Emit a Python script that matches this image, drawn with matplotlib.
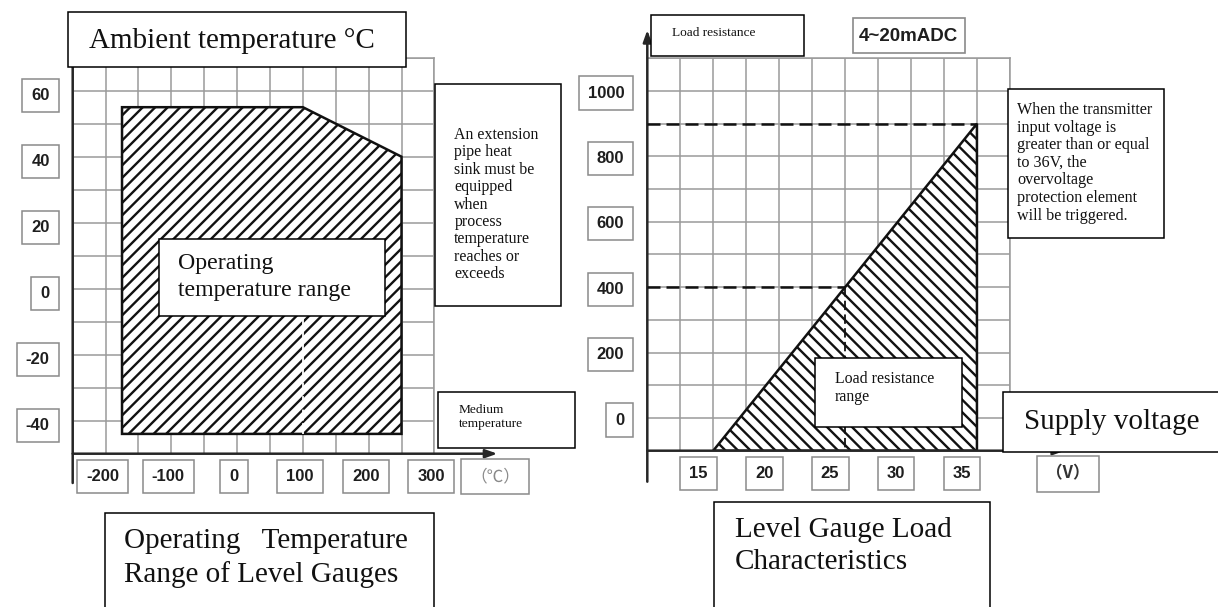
import matplotlib
matplotlib.use("Agg")
import matplotlib.pyplot as plt
from matplotlib.patches import Rectangle, Polygon
from matplotlib import font_manager
import numpy as np

# Canvas is 1218 x 607 px; at 75 dpi the double-stroke hatch has a line
# pitch of 12.5 px.  PT converts "100 dpi points" to this dpi.
W, H, DPI = 1218, 607, 75
PT = 100 / DPI

# ---- Operating temperature envelope: medium (process) vs ambient, in °C
medium_temp = [-175, -175, 100, 250, 250]
ambient_temp = [-44, 55, 55, 40, -44]
heat_sink_temp = 100          # above this an extension pipe heat sink is needed
heat_sink_ambient = [-44, 0]
temp_x_ticks = [-200, -100, 0, 100, 200, 300]
temp_y_ticks = [-40, -20, 0, 20, 40, 60]

# ---- Load characteristic: supply voltage (V) vs load resistance (Ω)
supply_v = [15, 35, 35]
load_ohm = [-100, 900, -100]
ref_v, ref_ohm = 25, 400      # 24 V class operating point
max_v, max_ohm = 35, 900      # upper limit before overvoltage protection
volt_ticks = [15, 20, 25, 30, 35]
ohm_ticks = [0, 200, 400, 600, 800, 1000]

plt.rcParams["hatch.linewidth"] = 1.7 * PT
plt.rcParams["hatch.color"] = "#111111"

fig = plt.figure(figsize=((W + 0.01) / DPI, (H + 0.01) / DPI), dpi=DPI, facecolor="white")

SERIF = "Liberation Serif"
SANS = "Liberation Sans"
try:
    font_manager.findfont(font_manager.FontProperties(family="Liberation Sans Narrow", weight="bold"),
                          fallback_to_default=False)
    BADGE_FONT, BADGE_SIZE = "Liberation Sans Narrow", 16
except ValueError:
    BADGE_FONT, BADGE_SIZE = SANS, 13.5


def axes_at(x0, y0, x1, y1):
    return fig.add_axes([x0 / W, 1 - y1 / H, (x1 - x0) / W, (y1 - y0) / H])


GRID_C = "#9a9a9a"
AXIS_C = "#262626"


def style_grid(ax, xs, ys):
    ax.set_xticks(xs)
    ax.set_yticks(ys)
    ax.grid(True, color=GRID_C, lw=1.1 * PT)
    ax.set_axisbelow(True)
    ax.tick_params(length=0, labelbottom=False, labelleft=False)
    for side in ("top", "right"):
        ax.spines[side].set_color(GRID_C)
        ax.spines[side].set_linewidth(1.1 * PT)
    for side in ("left", "bottom"):
        ax.spines[side].set_visible(False)


def axis_arrows(ax, x_tip, y_tip, y_tail):
    arrow = dict(arrowstyle="-|>,head_length=0.7,head_width=0.25", lw=1.8 * PT,
                 color=AXIS_C, shrinkA=0, shrinkB=0, mutation_scale=10 * PT)
    ax.annotate("", xy=(0, y_tip), xytext=(0, y_tail), xycoords="axes fraction",
                arrowprops=arrow, annotation_clip=False)
    ax.annotate("", xy=(x_tip, 0), xytext=(0, 0), xycoords="axes fraction",
                arrowprops=arrow, annotation_clip=False)


TICK_BOX = dict(boxstyle="square,pad=0.55", fc="white", ec="#8a8a8a", lw=1.1 * PT)


def tick_box(ax, text, xy, coords, dx, dy, ha, color="#1e1e1e", family=SANS, weight="bold"):
    ax.annotate(text, xy=xy, xycoords=coords, xytext=(dx, dy), textcoords="offset pixels",
                ha=ha, va="center", fontsize=12 * PT, fontweight=weight, family=family,
                color=color, bbox=TICK_BOX, annotation_clip=False, zorder=6)


# ---------------- left: operating temperature range ----------------
ax1 = axes_at(72.7, 57.7, 434.4, 453.7)
ax1.set_xlim(-250, 300)
ax1.set_ylim(-50, 70)
style_grid(ax1, np.arange(-250, 301, 50), np.arange(-50, 71, 10))

ax1.add_patch(Polygon(np.column_stack([medium_temp, ambient_temp]), closed=True,
                      fc="white", ec="#111111", lw=1.8 * PT, hatch="//", zorder=3))
ax1.plot([heat_sink_temp, heat_sink_temp], heat_sink_ambient, color="white",
         lw=1.3 * PT, dashes=(6, 1.5), zorder=4)
axis_arrows(ax1, 1.174, 1.075, -0.074)

for v in temp_y_ticks:
    tick_box(ax1, str(v), (0, v), ax1.get_yaxis_transform(), -23, -5, "right")
for v in temp_x_ticks:
    tick_box(ax1, str(v), (v, 0), ax1.get_xaxis_transform(), -3, -23, "center")
tick_box(ax1, "（℃）", (1.168, 0), "axes fraction", 0, -23, "center",
         color="#8a8a8a", family=["Noto Sans CJK SC", "DejaVu Sans"], weight="normal")

# ---------------- right: load characteristic ----------------
ax2 = axes_at(647.3, 58.3, 1009.9, 450.7)
ax2.set_xlim(10, 37.5)
ax2.set_ylim(-100, 1100)
style_grid(ax2, np.arange(10, 37.6, 2.5), np.arange(-100, 1101, 100))

ax2.add_patch(Polygon(np.column_stack([supply_v, load_ohm]), closed=True,
                      fc="white", ec="#111111", lw=1.8 * PT, hatch="\\\\", zorder=3))
v_origin, r_floor = ax2.get_xlim()[0], ax2.get_ylim()[0]
dash = dict(color="#111111", lw=1.8 * PT, dashes=(5.2, 2.4), zorder=4)
ax2.plot([v_origin, max_v], [max_ohm, max_ohm], **dash)
ax2.plot([v_origin, ref_v], [ref_ohm, ref_ohm], **dash)
ax2.plot([ref_v, ref_v], [ref_ohm, r_floor], **dict(dash, lw=1.3 * PT))
axis_arrows(ax2, 1.152, 1.072, -0.079)

for v in ohm_ticks:
    tick_box(ax2, str(v), (0, v), ax2.get_yaxis_transform(), -23, -2, "right")
for v in volt_ticks:
    tick_box(ax2, str(v), (v, 0), ax2.get_xaxis_transform(), -15, -23, "center")
tick_box(ax2, "（V）", (1.160, 0), "axes fraction", 0, -23, "center",
         color="#333333", family=["Noto Sans CJK SC", "DejaVu Sans"], weight="bold")


# ---------------- framed captions ----------------
def frame(x0, y0, x1, y1, ec="black", lw=1.1):
    fig.patches.append(Rectangle((x0 / W, 1 - y1 / H), (x1 - x0) / W, (y1 - y0) / H,
                                 transform=fig.transFigure, fc="white", ec=ec, lw=lw * PT,
                                 zorder=5, clip_on=False))


def caption(x, y_first, lines, size, line_px=0):
    for i, line in enumerate(lines):
        fig.text(x / W, 1 - (y_first + i * line_px) / H, line, fontsize=size * PT,
                 family=SERIF, ha="left", va="center", color="#111111", zorder=6)


frame(68.1, 11.7, 405.7, 67.3)
caption(88.8, 41.0, ["Ambient temperature °C"], 21)

frame(435.1, 84, 560.7, 306)
caption(454.3, 135, ["An extension", "pipe heat", "sink must be", "equipped", "when",
                     "process", "temperature", "reaches or", "exceeds"], 11.4, 17.4)

frame(158.8, 238.7, 384.6, 316)
caption(178, 263.3, ["Operating", "temperature range"], 17.2, 26.7)

frame(438.2, 392.3, 574.8, 448.3)
caption(458.5, 410, ["Medium", "temperature"], 9.6, 14)

frame(104.5, 513.3, 433.6, 625)
caption(124.4, 540.7, ["Operating   Temperature", "Range of Level Gauges"], 21, 34.3)

frame(651.2, 15, 804.2, 55.7)
caption(672.1, 33.3, ["Load resistance"], 9.6)

frame(853.4, 18.3, 964.6, 53.3, ec="#8a8a8a", lw=1.2)
fig.text(908.5 / W, 1 - 36 / H, "4~20mADC", fontsize=BADGE_SIZE * PT, family=BADGE_FONT,
         fontweight="bold", ha="center", va="center", color="#1e1e1e", zorder=6)

frame(1008, 89, 1164.4, 237.7)
caption(1017, 110, ["When the transmitter", "input voltage is", "greater than or equal",
                    "to 36V, the", "overvoltage", "protection element",
                    "will be triggered."], 11.6, 17.6)

frame(814.8, 357.7, 961.8, 426.7)
caption(834.5, 379, ["Load resistance", "range"], 11.4, 18.3)

frame(1002.8, 392.3, 1230, 452.3)
caption(1023.7, 421.7, ["Supply voltage"], 21)

frame(714.3, 501.7, 990.2, 625)
caption(735.2, 530, ["Level Gauge Load", "Characteristics"], 21, 31.7)

fig.savefig("out.png", dpi=DPI, facecolor="white")
